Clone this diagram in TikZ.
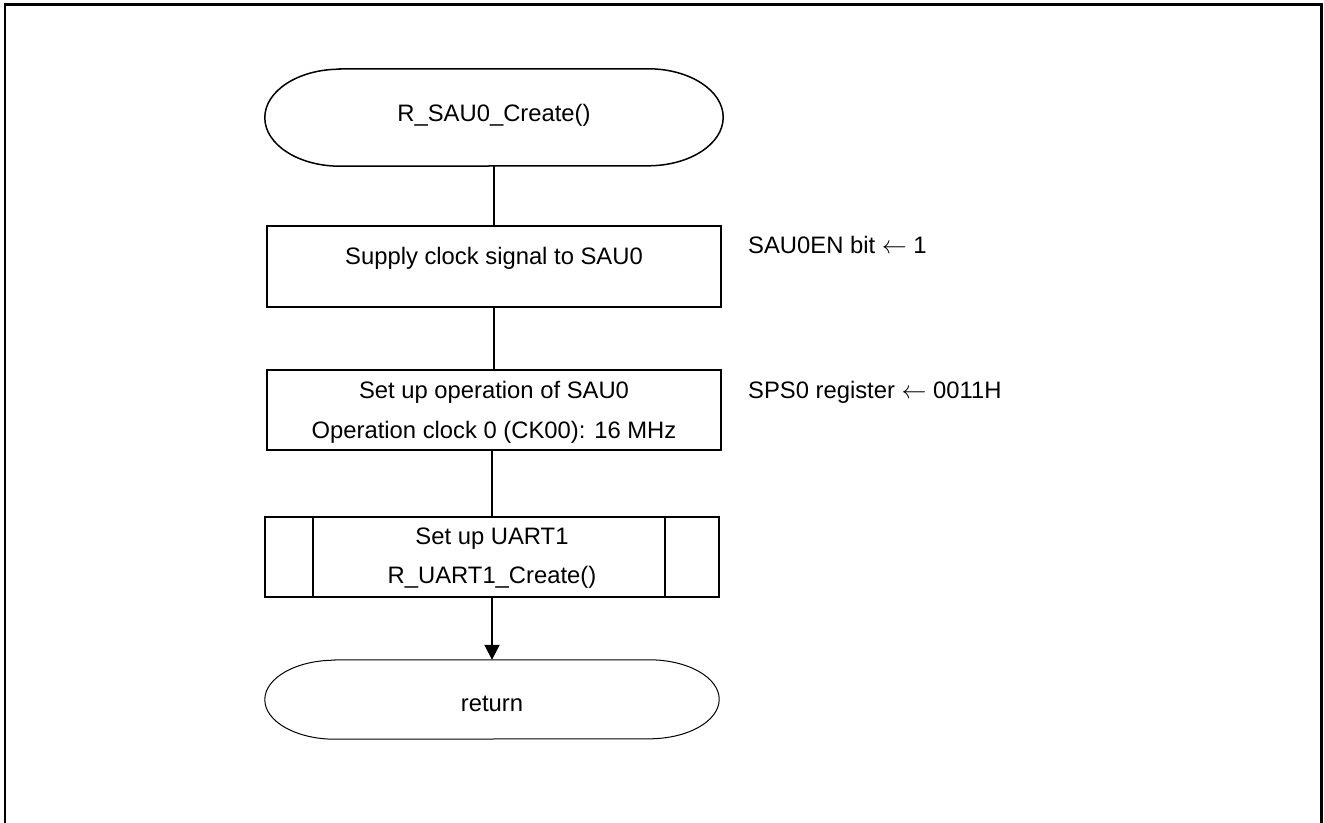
\documentclass[tikz,border=0pt]{standalone}
\usepackage{fontspec}
\setmainfont{Liberation Sans}
\usetikzlibrary{arrows.meta}
\tikzset{
  shapebox/.style={draw=none, minimum width=454pt, minimum height=80pt, inner sep=0pt},
  boxline/.style={line width=1.5pt},
  txt/.style={anchor=base, inner sep=0pt, font=\fontsize{23.8pt}{40pt}\selectfont},
  note/.style={anchor=base west, inner sep=0pt, font=\fontsize{23.8pt}{40pt}\selectfont},
  conn/.style={line width=2pt},
  frameline/.style={line width=2.2pt}
}
\begin{document}
\begin{tikzpicture}[x=1pt,y=1pt]
\useasboundingbox (0,0) rectangle (1324,822);
\clip (0,0) rectangle (1324,822);
\fill[white] (0,0) rectangle (1324,822);
% outer frame (bottom edge lies outside the picture)
\draw[frameline] (5,-20) -- (5,817.5) -- (1321.5,817.5) -- (1321.5,-20);

% start terminator
\node[shapebox, minimum width=458pt, minimum height=97pt] (start) at (494,704.5) {};
\draw[boxline] ([xshift=75pt]start.north west) -- ([xshift=-75pt]start.north east)
  arc[start angle=90, end angle=-90, x radius=75pt, y radius=48.5pt]
  -- ([xshift=75pt]start.south west)
  arc[start angle=270, end angle=90, x radius=75pt, y radius=48.5pt] -- cycle;
\node[txt] (tstart) at (494,700) {R\_SAU0\_Create()};

% box 1
\node[shapebox, minimum height=81pt] (b1) at (494,555.5) {};
\draw[boxline] (b1.north west) rectangle (b1.south east);
\node[txt] (tb1) at (494,557) {Supply clock signal to SAU0};

% box 2
\node[shapebox] (b2) at (494,412) {};
\draw[boxline] (b2.north west) rectangle (b2.south east);
\node[txt] (tb2a) at (494,423) {Set up operation of SAU0};
\node[txt] (tb2b) at (494,383) {Operation clock 0 (CK00): 16 MHz};

% box 3 (predefined process)
\node[shapebox] (b3) at (492,265) {};
\draw[boxline] (b3.north west) rectangle (b3.south east);
\draw[boxline] ([xshift=48pt]b3.north west) -- ([xshift=48pt]b3.south west);
\draw[boxline] ([xshift=-54pt]b3.north east) -- ([xshift=-54pt]b3.south east);
\node[txt] (tb3a) at (492,277) {Set up UART1};
\node[txt] (tb3b) at (492,238) {R\_UART1\_Create()};

% return terminator
\node[shapebox, minimum height=79pt] (ret) at (492,122.5) {};
\draw[line width=1pt] ([xshift=70pt]ret.north west) -- ([xshift=-70pt]ret.north east)
  arc[start angle=90, end angle=-90, x radius=70pt, y radius=39.5pt]
  -- ([xshift=70pt]ret.south west)
  arc[start angle=270, end angle=90, x radius=70pt, y radius=39.5pt] -- cycle;
\node[txt] (tret) at (492,111) {return};

% annotations
\node[note] (n1) at (748,568) {SAU0EN bit $\leftarrow$ 1};
\node[note] (n2) at (748,423) {SPS0 register $\leftarrow$ 0011H};

% connectors
\draw[conn] (start.south) -- (start.south |- b1.north);
\draw[conn] (b1.south) -- (b1.south |- b2.north);
\draw[conn] (b3.north |- b2.south) -- (b3.north);
\draw[conn, -{Triangle[length=15pt, width=15pt]}] (b3.south) -- (ret.north);
\end{tikzpicture}
\end{document}
